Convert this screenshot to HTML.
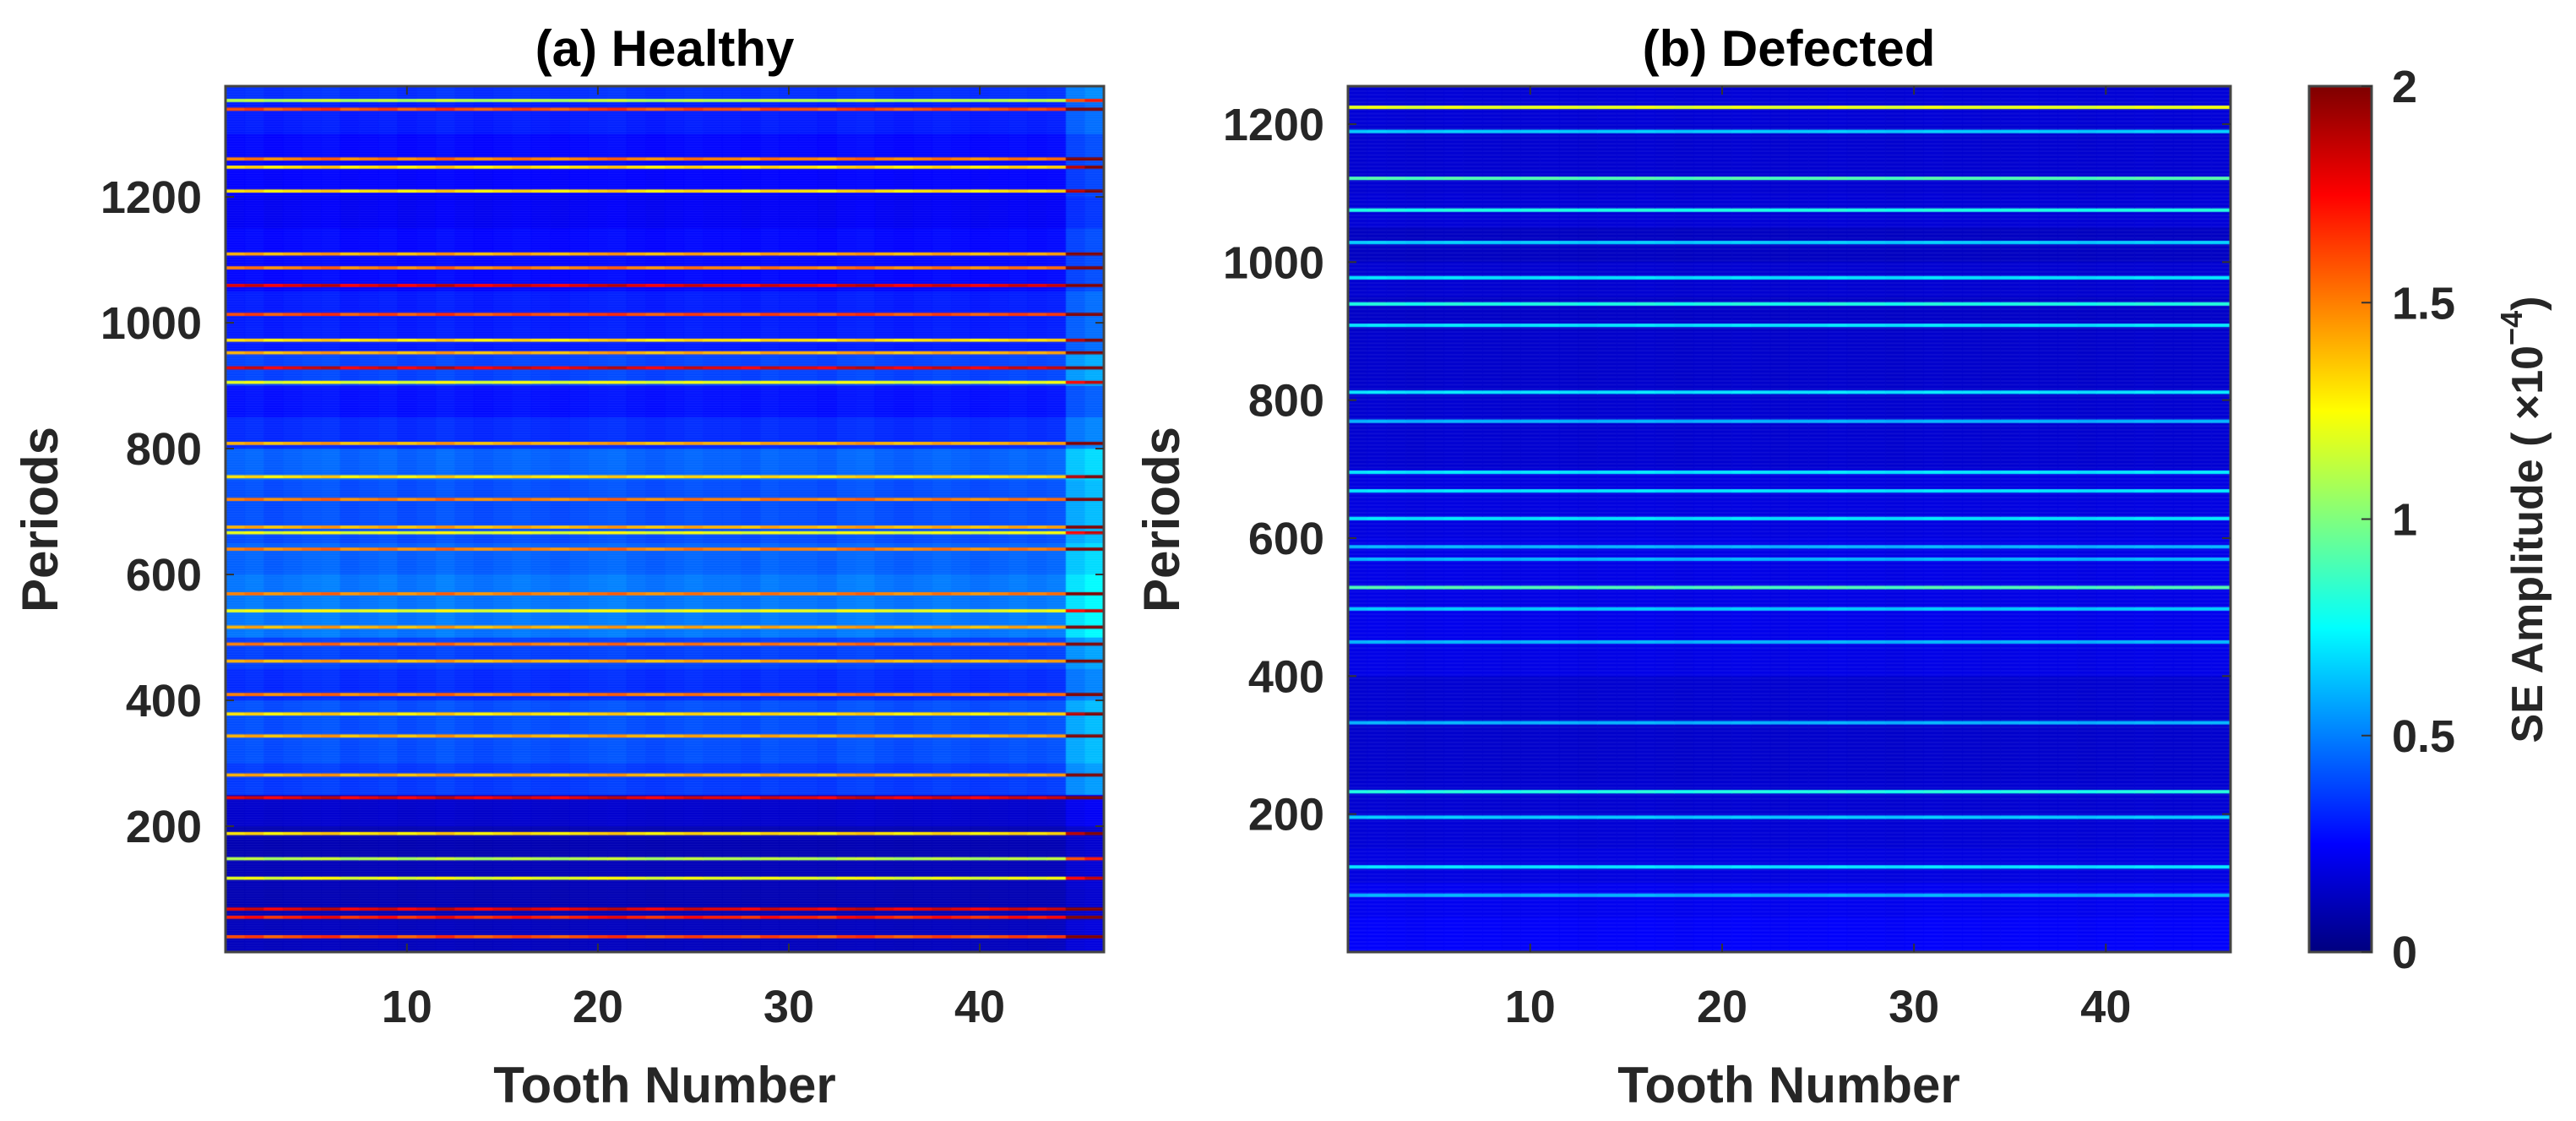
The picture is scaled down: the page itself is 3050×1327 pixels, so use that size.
<!DOCTYPE html>
<html><head><meta charset="utf-8">
<style>
html,body{margin:0;padding:0;background:#fff;}
#root{position:relative;width:3050px;height:1327px;overflow:hidden;background:#fff;}
canvas{position:absolute;}
svg{position:absolute;left:0;top:0;}
text{font-family:"Liberation Sans",Arial,sans-serif;font-weight:bold;fill:#262626;}
</style></head>
<body>
<div id="root">
<canvas id="hmA" width="1040" height="1025" style="left:267px;top:102px;width:1040px;height:1025px"></canvas>
<canvas id="hmB" width="1045" height="1025" style="left:1596px;top:102px;width:1045px;height:1025px"></canvas>
<canvas id="cbar" width="74" height="1025" style="left:2734px;top:102px;width:74px;height:1025px"></canvas>
<svg id="ov" width="3050" height="1327">
  <text x="787" y="78" font-size="60" text-anchor="middle" style="fill:#000">(a) Healthy</text>
  <text x="2118" y="78" font-size="60" text-anchor="middle" style="fill:#000">(b) Defected</text>
  <text x="787" y="1305" font-size="60" text-anchor="middle">Tooth Number</text>
  <text x="2118" y="1305" font-size="60" text-anchor="middle">Tooth Number</text>
  <text transform="translate(68,615) rotate(-90)" font-size="60" text-anchor="middle">Periods</text>
  <text transform="translate(1396,615) rotate(-90)" font-size="60" text-anchor="middle">Periods</text>
  <text transform="translate(3010,615) rotate(-90)" font-size="52" text-anchor="middle">SE Amplitude ( ×10<tspan font-size="36" dy="-24">−4</tspan><tspan dy="24">)</tspan></text>
  <g id="axes"></g>
</svg>
</div>
<script>
// ---- data (values in units of 1e-4, colour scale 0..2) ----
const teeth = [];
for (let i = 1; i <= 46; i++) teeth.push(i);
const xTicks = [10, 20, 30, 40];
const yTicksA = [200, 400, 600, 800, 1000, 1200];
const yTicksB = [200, 400, 600, 800, 1000, 1200];
const cbTicks = [0, 0.5, 1, 1.5, 2];
const periodsA = 1376;
const periodsB = 1255;
// background level per 50-period band (band 0 = periods 0-50)
const bgA = [0.12,0.1,0.11,0.1,0.15,0.36,0.4,0.4,0.33,0.37,0.48,0.48,0.44,0.4,0.4,0.44,0.33,0.28,0.38,0.3,0.3,0.26,0.26,0.23,0.25,0.26,0.3,0.34];
const bgB = [0.24,0.22,0.19,0.17,0.16,0.15,0.15,0.16,0.2,0.21,0.2,0.2,0.19,0.19,0.16,0.16,0.15,0.15,0.14,0.16,0.13,0.17,0.16,0.16,0.17,0.16];
// streak rows: period positions and values
const streakPA = [1354,1340,1261,1248,1210,1110,1088,1060,1014,973,953,929,906,809,756,720,676,667,641,570,543,517,490,463,410,379,344,282,246,189,149,118,69,56,25];
const streakVA = [1.1,1.6,1.5,1.3,1.3,1.4,1.5,1.8,1.6,1.3,1.4,1.8,1.2,1.4,1.3,1.5,1.4,1.2,1.5,1.5,1.2,1.4,1.5,1.4,1.5,1.3,1.4,1.4,1.8,1.3,1.1,1.2,1.8,1.7,1.6];
const streakPB = [1225,1190,1122,1076,1029,978,940,909,812,770,696,669,629,588,570,529,498,450,333,233,196,124,83];
const streakVB = [1.2,0.65,0.9,0.8,0.65,0.7,0.8,0.7,0.7,0.6,0.7,0.7,0.7,0.6,0.6,0.9,0.65,0.6,0.6,0.8,0.65,0.7,0.6];
// per-tooth multiplier
const colA = [1,1.03,0.97,1,1.03,1.05,0.97,1,1.03,0.97,1,1.05,1,0.97,1,1.03,1,0.97,1,1.03,1.05,1,0.97,1,1.03,1,1,0.97,1.03,1,1,0.97,1.03,1.05,1,0.97,1,1.03,1,0.97,1,1.03,1,1.03,1.45,1.55];
const colB = [1,1.02,1,0.98,1,1.02,1,1,0.98,1,1.02,1,0.98,1,1,1.02,1,0.98,1,1,1.02,1,0.98,1,1,1.02,1,1,0.98,1,1.02,1,1,0.98,1,1.02,1,1,0.98,1,1,1.02,1,1,1.02,1.02];

function jet(v){
  v=Math.max(0,Math.min(1,v));
  const r=Math.max(0,Math.min(1,1.5-Math.abs(4*v-3)));
  const g=Math.max(0,Math.min(1,1.5-Math.abs(4*v-2)));
  const b=Math.max(0,Math.min(1,1.5-Math.abs(4*v-1)));
  return 'rgb('+Math.round(r*255)+','+Math.round(g*255)+','+Math.round(b*255)+')';
}
function drawHeat(id, W, H, N, bg, sp, sv, col){
  const cv=document.getElementById(id), ctx=cv.getContext('2d');
  const xs=c=>(c-0.5)/46*W;
  const ys=p=>H-(p/N)*H;
  for(let p=1;p<=N;p++){
    let val=bg[Math.min(bg.length-1,Math.floor((p-1)/50))];
    for(let k=0;k<sp.length;k++){ if(Math.abs(p-sp[k])<=2) val=Math.max(val,sv[k]); }
    const y0=ys(p+0.5), y1=ys(p-0.5);
    for(let c=1;c<=46;c++){
      ctx.fillStyle=jet(Math.min(2,val*col[c-1])/2);
      ctx.fillRect(xs(c-0.5),y0,xs(c+0.5)-xs(c-0.5)+0.5,y1-y0+0.5);
    }
  }
}
drawHeat('hmA',1040,1025,periodsA,bgA,streakPA,streakVA,colA);
drawHeat('hmB',1045,1025,periodsB,bgB,streakPB,streakVB,colB);
(function(){
  const cv=document.getElementById('cbar'),ctx=cv.getContext('2d');
  for(let y=0;y<1025;y++){ctx.fillStyle=jet(1-y/1025);ctx.fillRect(0,y,74,1);}
})();
const NS='http://www.w3.org/2000/svg';
const g=document.getElementById('axes');
function el(tag,attrs){const e=document.createElementNS(NS,tag);for(const k in attrs)e.setAttribute(k,attrs[k]);g.appendChild(e);return e;}
function axes(x0,W,N,yt,tag){
  const y0=102,H=1025;
  const r=el('rect',{x:x0,y:y0,width:W,height:H,fill:'none',stroke:'#444','stroke-width':3});
  
  
  xTicks.forEach(t=>{
    const x=x0+(t-0.5)/46*W;
    el('line',{x1:x,x2:x,y1:y0+H,y2:y0+H-10,stroke:'#333','stroke-width':2});
    el('line',{x1:x,x2:x,y1:y0,y2:y0+10,stroke:'#333','stroke-width':2});
    const tx=el('text',{x:x,y:1210,'font-size':54,'text-anchor':'middle'});
    tx.textContent=t;
    
    
  });
  yt.forEach(t=>{
    const y=y0+H-(t/N)*H;
    el('line',{x1:x0,x2:x0+10,y1:y,y2:y,stroke:'#333','stroke-width':2});
    el('line',{x1:x0+W,x2:x0+W-10,y1:y,y2:y,stroke:'#333','stroke-width':2});
    const tx=el('text',{x:x0-28,y:y+19,'font-size':54,'text-anchor':'end'});
    tx.textContent=t;
    
    
  });
}
axes(267,1040,periodsA,yTicksA,'healthy');
axes(1596,1045,periodsB,yTicksB,'defected');
const cr=el('rect',{x:2734,y:102,width:74,height:1025,fill:'none',stroke:'#444','stroke-width':3});


cbTicks.forEach(t=>{
  const y=1127-(t/2)*1025;
  el('line',{x1:2808,x2:2796,y1:y,y2:y,stroke:'#333','stroke-width':2});
  const tx=el('text',{x:2832,y:y+19,'font-size':54,'text-anchor':'start'});
  tx.textContent=t;
  
  
});
</script>
</body></html>
